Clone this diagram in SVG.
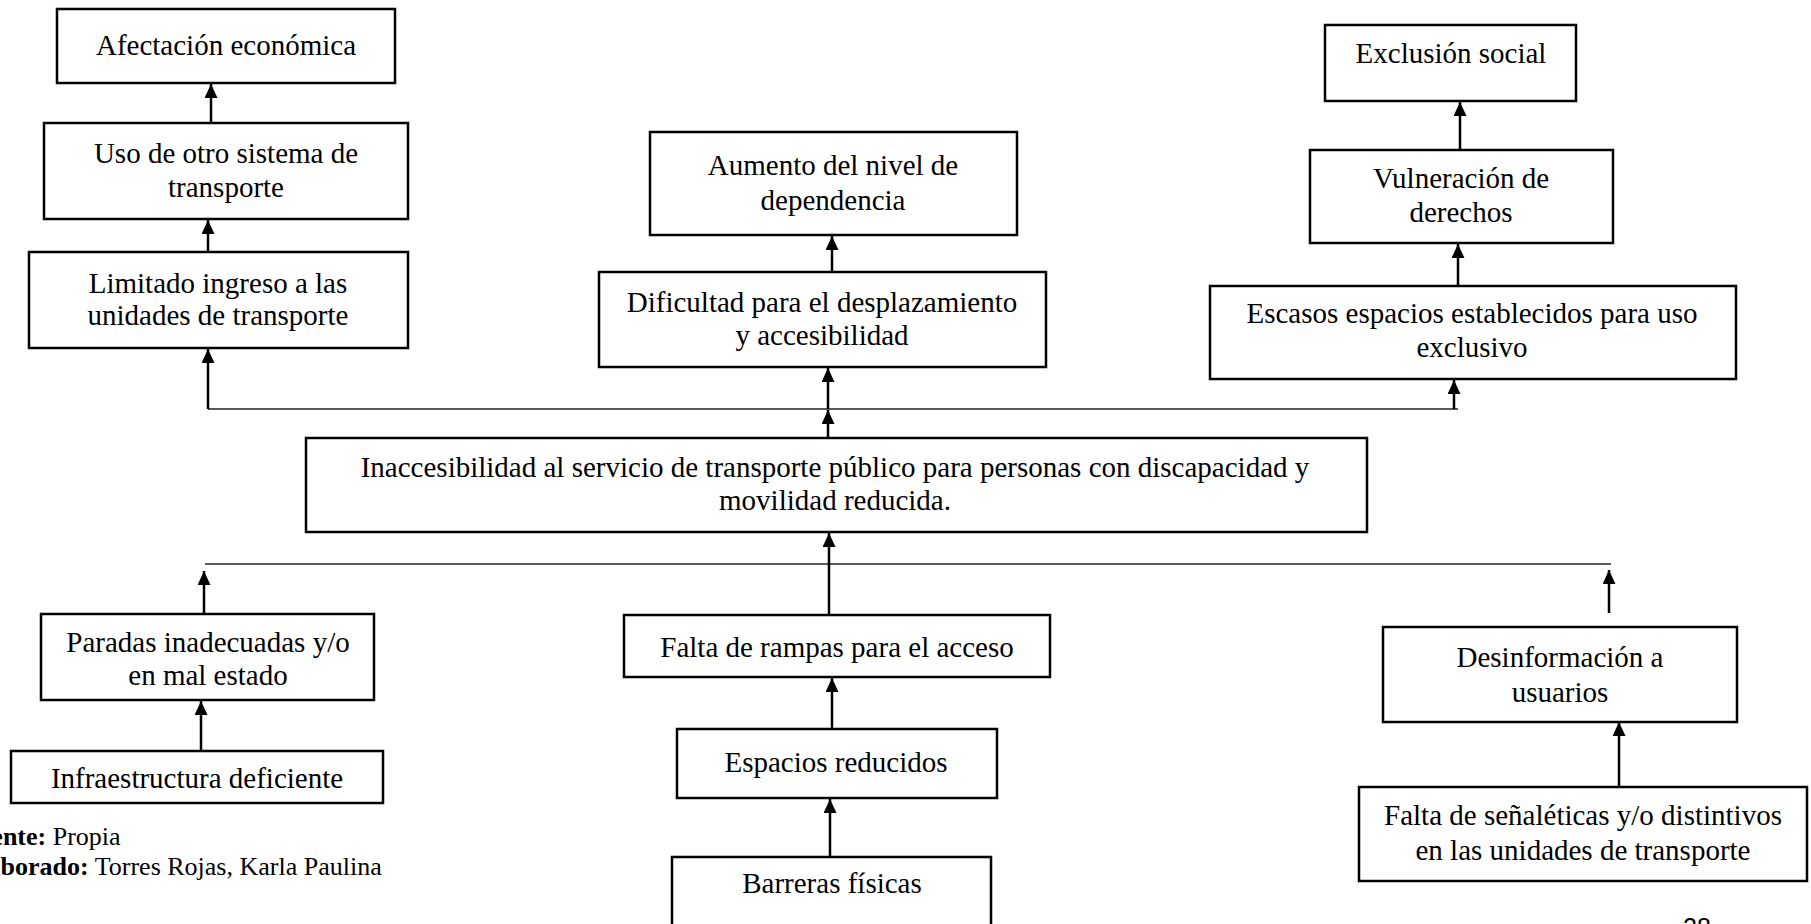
<svg xmlns="http://www.w3.org/2000/svg" width="1811" height="924" viewBox="0 0 1811 924">
<defs>
<style>
.box{fill:#fff;stroke:#000;stroke-width:2.5}
.t{font-family:"Liberation Serif","Times New Roman",serif;font-size:29px;fill:#000;text-anchor:middle}
.src{font-family:"Liberation Serif","Times New Roman",serif;font-size:26px;fill:#000}
.arr{stroke:#000;stroke-width:2.5;fill:none;marker-end:url(#ah)}
.bus{stroke:#222;stroke-width:1.6;fill:none}
</style>
<marker id="ah" viewBox="0 0 14 13" refX="14" refY="6.5" markerWidth="14" markerHeight="13" markerUnits="userSpaceOnUse" orient="auto">
<path d="M0,0 L14,6.5 L0,13 z" fill="#000"/>
</marker>
</defs>
<rect width="1811" height="924" fill="#fff"/>

<g id="connectors">
<line class="bus" x1="208" y1="409" x2="1458" y2="409"/>
<line class="bus" x1="205" y1="564" x2="1611" y2="564"/>
<line class="arr" x1="211" y1="123" x2="211" y2="84"/>
<line class="arr" x1="208" y1="252" x2="208" y2="220"/>
<line class="arr" x1="208" y1="409" x2="208" y2="349"/>
<line class="arr" x1="832" y1="272" x2="832" y2="236"/>
<line class="arr" x1="828" y1="409" x2="828" y2="368"/>
<line class="arr" x1="1460" y1="150" x2="1460" y2="102"/>
<line class="arr" x1="1458" y1="286" x2="1458" y2="244"/>
<line class="arr" x1="1454" y1="409" x2="1454" y2="380"/>
<line class="arr" x1="828" y1="438" x2="828" y2="410"/>
<line class="arr" x1="829" y1="615" x2="829" y2="533"/>
<line class="arr" x1="204" y1="614" x2="204" y2="571"/>
<line class="arr" x1="1609" y1="613" x2="1609" y2="570"/>
<line class="arr" x1="201" y1="751" x2="201" y2="701"/>
<line class="arr" x1="832" y1="729" x2="832" y2="678"/>
<line class="arr" x1="830" y1="857" x2="830" y2="799"/>
<line class="arr" x1="1619" y1="787" x2="1619" y2="722"/>
</g>

<g id="n-afectacion">
<rect class="box" x="57" y="9" width="338" height="74"/>
<text class="t" x="226" y="55">Afectación económica</text>
</g>
<g id="n-uso">
<rect class="box" x="44" y="123" width="364" height="96"/>
<text class="t" x="226" y="163">Uso de otro sistema de</text>
<text class="t" x="226" y="197">transporte</text>
</g>
<g id="n-limitado">
<rect class="box" x="29" y="252" width="379" height="96"/>
<text class="t" x="218" y="293">Limitado ingreso a las</text>
<text class="t" x="218" y="325">unidades de transporte</text>
</g>

<g id="n-aumento">
<rect class="box" x="650" y="132" width="367" height="103"/>
<text class="t" x="833" y="175">Aumento del nivel de</text>
<text class="t" x="833" y="210">dependencia</text>
</g>
<g id="n-dificultad">
<rect class="box" x="599" y="272" width="447" height="95"/>
<text class="t" x="822" y="312">Dificultad para el desplazamiento</text>
<text class="t" x="822" y="345">y accesibilidad</text>
</g>

<g id="n-exclusion">
<rect class="box" x="1325" y="25" width="251" height="76"/>
<text class="t" x="1451" y="63">Exclusión social</text>
</g>
<g id="n-vulneracion">
<rect class="box" x="1310" y="150" width="303" height="93"/>
<text class="t" x="1461" y="188">Vulneración de</text>
<text class="t" x="1461" y="222">derechos</text>
</g>
<g id="n-escasos">
<rect class="box" x="1210" y="286" width="526" height="93"/>
<text class="t" x="1472" y="323">Escasos espacios establecidos para uso</text>
<text class="t" x="1472" y="357">exclusivo</text>
</g>

<g id="n-central">
<rect class="box" x="306" y="438" width="1061" height="94"/>
<text class="t" x="835" y="477">Inaccesibilidad al servicio de transporte público para personas con discapacidad y</text>
<text class="t" x="835" y="510">movilidad reducida.</text>
</g>

<g id="n-paradas">
<rect class="box" x="41" y="614" width="333" height="86"/>
<text class="t" x="208" y="652">Paradas inadecuadas y/o</text>
<text class="t" x="208" y="685">en mal estado</text>
</g>
<g id="n-infraestructura">
<rect class="box" x="11" y="751" width="372" height="52"/>
<text class="t" x="197" y="788">Infraestructura deficiente</text>
</g>

<g id="n-rampas">
<rect class="box" x="624" y="615" width="426" height="62"/>
<text class="t" x="837" y="657">Falta de rampas para el acceso</text>
</g>
<g id="n-espacios">
<rect class="box" x="677" y="729" width="320" height="69"/>
<text class="t" x="836" y="772">Espacios reducidos</text>
</g>
<g id="n-barreras">
<rect class="box" x="672" y="857" width="319" height="90"/>
<text class="t" x="832" y="893">Barreras físicas</text>
</g>

<g id="n-desinformacion">
<rect class="box" x="1383" y="627" width="354" height="95"/>
<text class="t" x="1560" y="667">Desinformación a</text>
<text class="t" x="1560" y="702">usuarios</text>
</g>
<g id="n-senaleticas">
<rect class="box" x="1359" y="787" width="448" height="94"/>
<text class="t" x="1583" y="825">Falta de señaléticas y/o distintivos</text>
<text class="t" x="1583" y="860">en las unidades de transporte</text>
</g>

<g id="source">
<text class="src" x="-39" y="845"><tspan font-weight="bold">Fuente:</tspan> Propia</text>
<text class="src" x="-37" y="875"><tspan font-weight="bold">Elaborado:</tspan> Torres Rojas, Karla Paulina</text>
<text x="1683" y="936" font-family="Liberation Sans, Arial, sans-serif" font-size="25" fill="#000">28</text>
</g>
</svg>
